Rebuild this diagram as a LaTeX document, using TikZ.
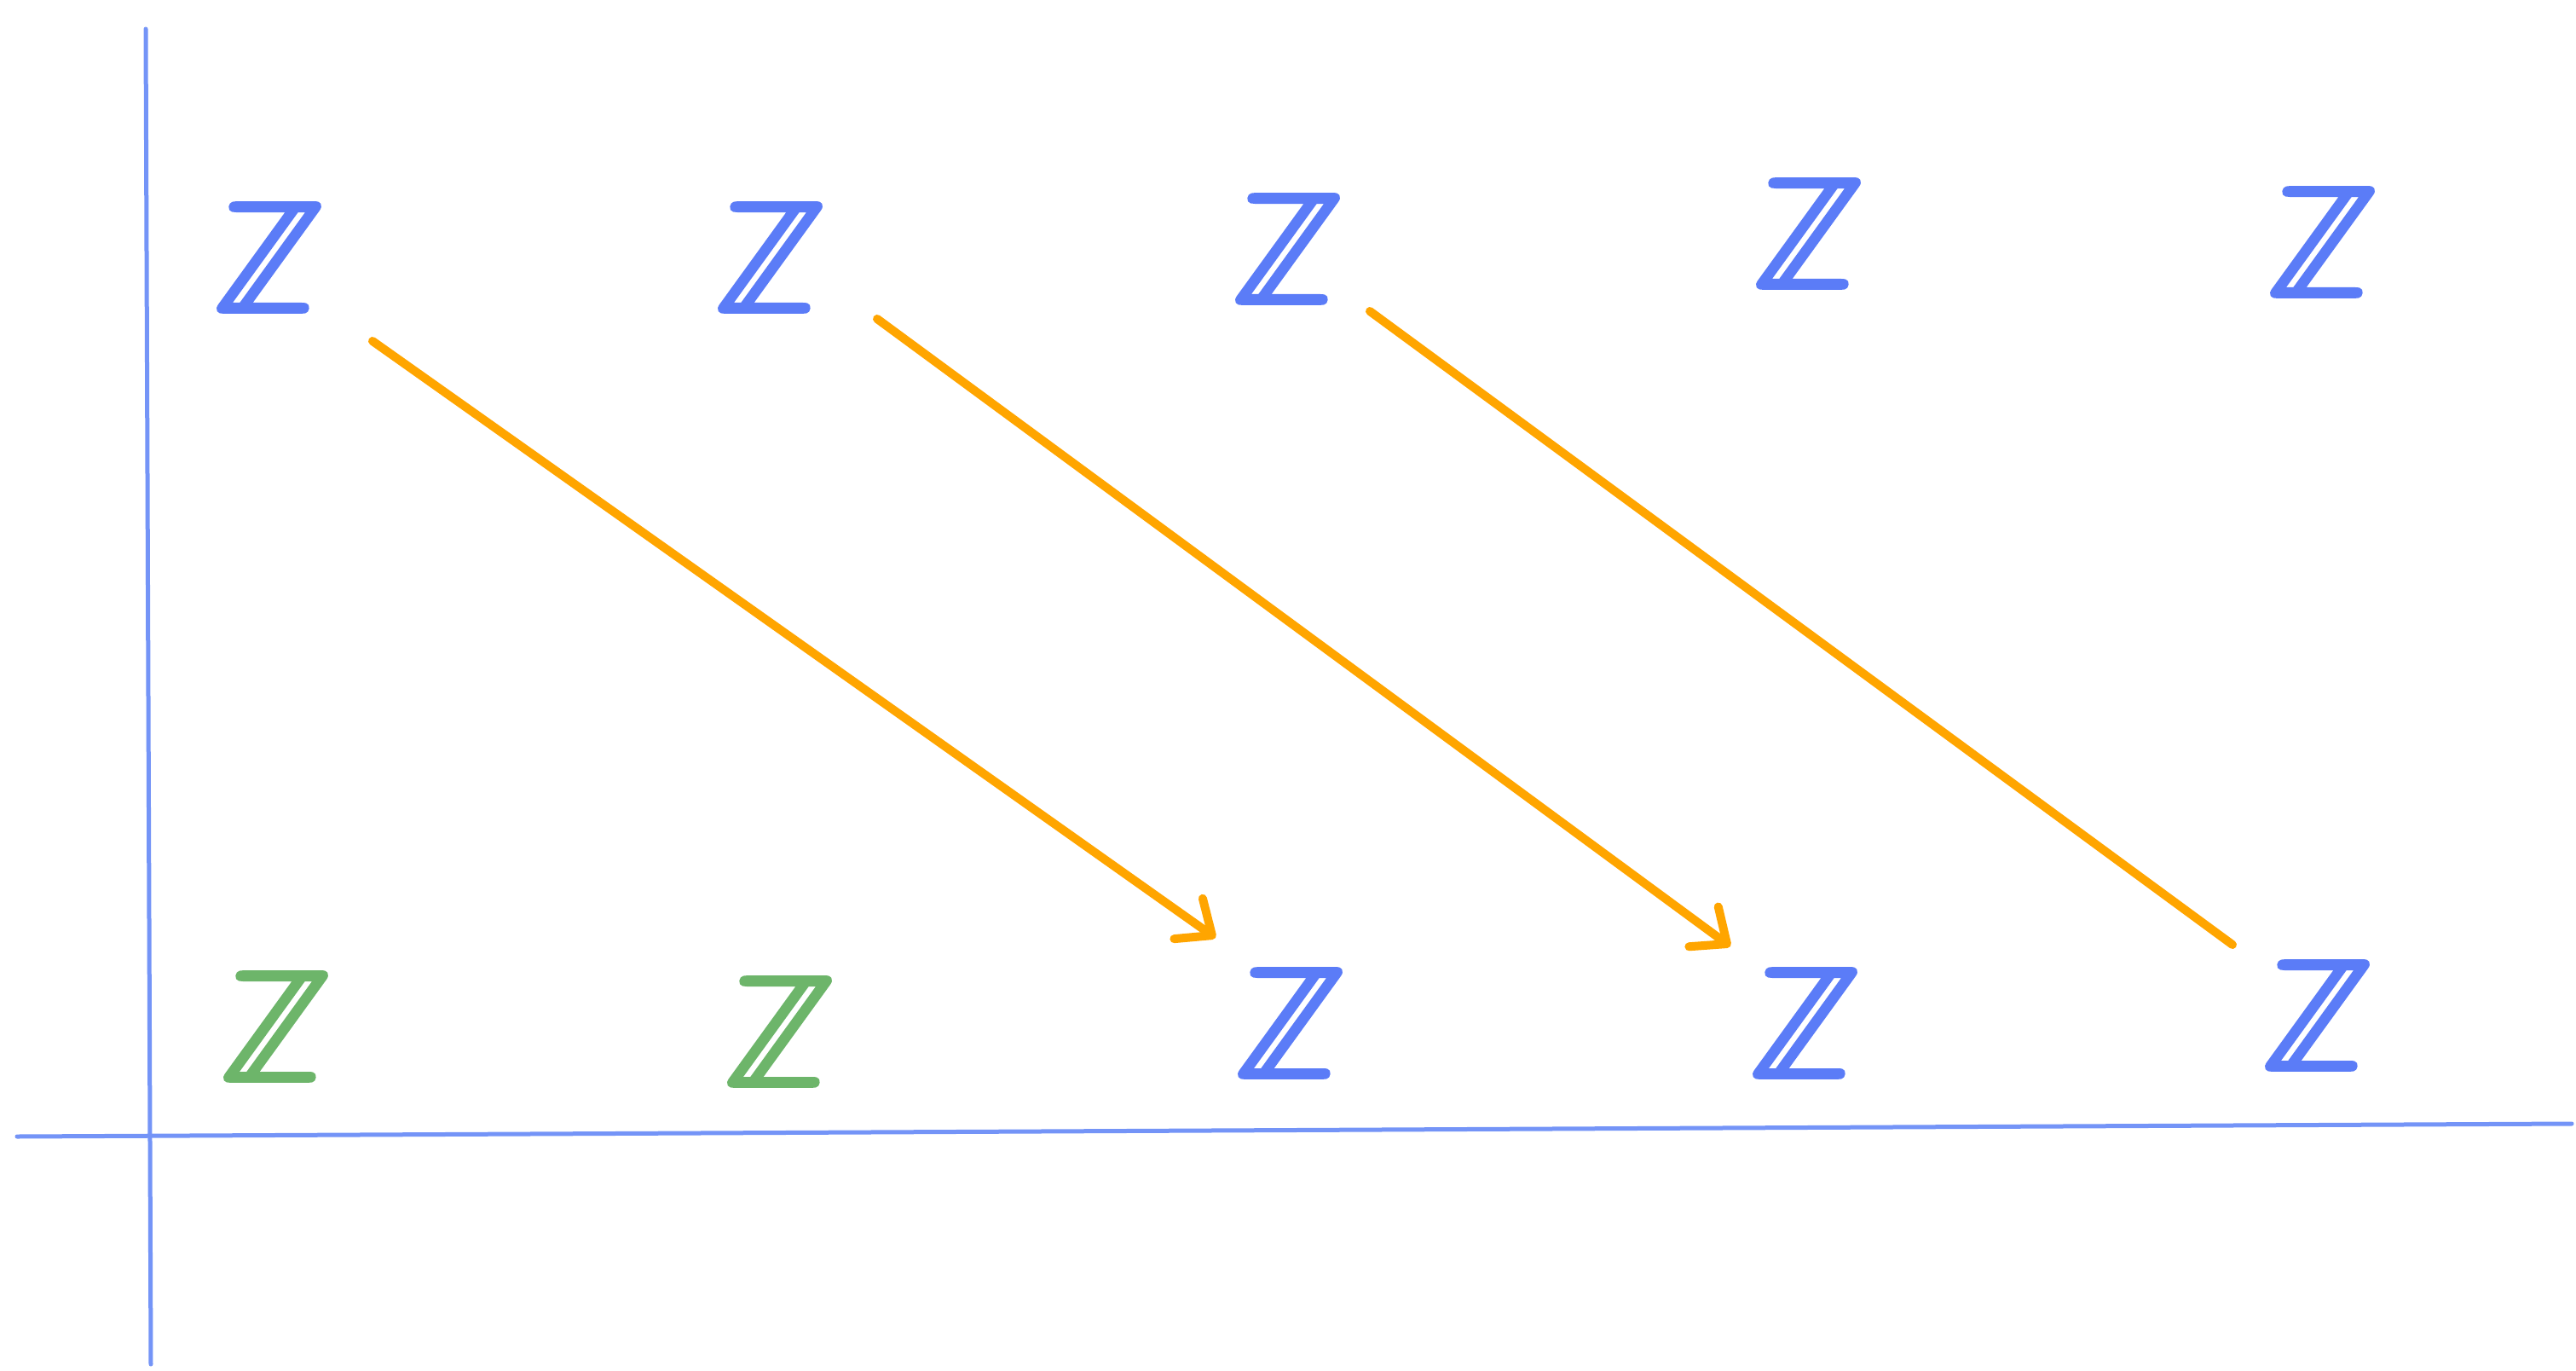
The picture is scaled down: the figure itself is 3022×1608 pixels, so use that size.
\documentclass[tikz,border=0pt]{standalone}
\usepackage{fontspec}
\newfontfamily\zfont[FakeBold=3,FakeSlant=0.12]{Latin Modern Math}
\usetikzlibrary{arrows.meta}
\definecolor{zblue}{HTML}{5B7CF7}
\definecolor{axblue}{HTML}{7494F7}
\definecolor{zgreen}{HTML}{6DB56A}
\definecolor{arrorange}{HTML}{FFA500}
\tikzset{
  zsym/.style={inner sep=0pt, text=zblue, font=\fontsize{185}{185}\zfont\bfseries},
  zgr/.style={zsym, text=zgreen},
  axis/.style={draw=axblue, line width=5pt, line cap=round},
  diag/.style={draw=arrorange, line width=10pt, line cap=round},
  diagarrow/.style={diag, -{Straight Barb[length=34pt,width=58pt,line cap=round,round]}},
}
\begin{document}
\begin{tikzpicture}[x=1pt,y=-1pt]
\useasboundingbox[fill=white] (0,0) rectangle (3022,1608);
% axes
\coordinate (vtop) at (171,34);
\coordinate (vbot) at (177,1600);
\coordinate (hleft) at (20,1333);
\coordinate (hright) at (3017,1318);
\draw[axis] (vtop) -- (vbot);
\draw[axis] (hleft) -- (hright);
% top row
\node[zsym] (t1) at (308,302) {ℤ};
\node[zsym] (t2) at (896,302) {ℤ};
\node[zsym] (t3) at (1503,292) {ℤ};
\node[zsym] (t4) at (2114,274) {ℤ};
\node[zsym] (t5) at (2717,284) {ℤ};
% bottom row
\node[zgr] (b1) at (316,1204) {ℤ};
\node[zgr] (b2) at (907,1210) {ℤ};
\node[zsym] (b3) at (1506,1200) {ℤ};
\node[zsym] (b4) at (2110,1200) {ℤ};
\node[zsym] (b5) at (2711,1191) {ℤ};
% connector ends
\coordinate (a1s) at (437,400);
\coordinate (a1e) at (1426,1100);
\coordinate (a2s) at (1029,374);
\coordinate (a2e) at (2030,1110);
\coordinate (a3s) at (1607,365);
\coordinate (a3e) at (2619,1108);
\draw[diagarrow] (a1s) -- (a1e);
\draw[diagarrow] (a2s) -- (a2e);
\draw[diag] (a3s) -- (a3e);
\end{tikzpicture}
\end{document}
